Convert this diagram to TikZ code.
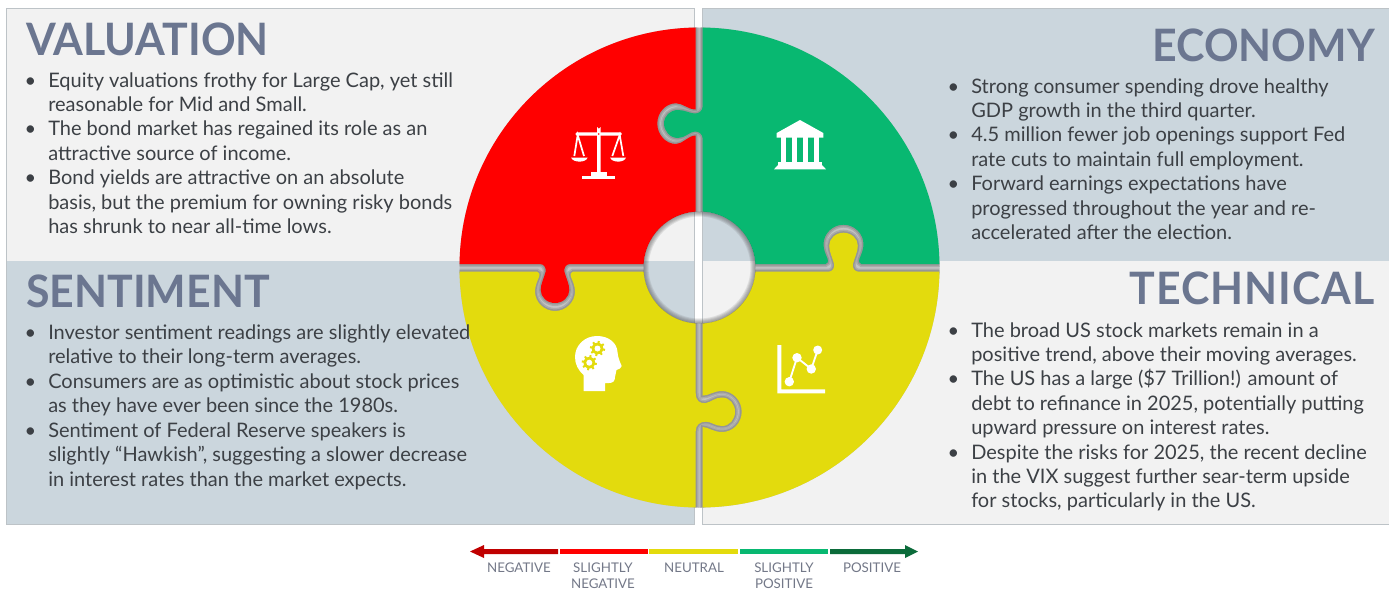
\documentclass[tikz,border=0pt]{standalone}
\usepackage{fontspec}
\setmainfont{Lato}
\newfontfamily\headf[FakeStretch=0.96]{Lato}
\definecolor{panlight}{HTML}{F2F2F2}
\definecolor{panblue}{HTML}{CBD6DD}
\definecolor{panedge}{HTML}{BDC3C7}
\definecolor{pred}{HTML}{FF0000}
\definecolor{pgreen}{HTML}{08B871}
\definecolor{pyellow}{HTML}{E3DB0D}
\definecolor{headc}{HTML}{6B7690}
\definecolor{bodyc}{HTML}{3C4045}
\definecolor{legc}{HTML}{737888}
\definecolor{dred}{HTML}{C00000}
\definecolor{dgreen}{HTML}{0B6B3A}
\newcommand{\bl}{\llap{•\hspace{9pt}}}
\newcommand{\redp}{(440,10) -- (695.7,10) -- (695.7,109.5)
 .. controls (688,109.5) and (683,103.3) .. (676,103.3)
 .. controls (665.5,103.3) and (657.3,112.5) .. (657.3,123.5)
 .. controls (657.3,134.5) and (665.5,144) .. (676,144)
 .. controls (683,144) and (688,135.5) .. (695.7,135.5)
 -- (695.7,264) -- (570,264)
 .. controls (566,264) and (563.5,268) .. (564.5,272)
 .. controls (566,278) and (569.3,284) .. (569.3,290)
 .. controls (569.3,297) and (563,303) .. (555,303)
 .. controls (547,303) and (540.7,297) .. (540.7,290)
 .. controls (540.7,284) and (544,278) .. (545.5,272)
 .. controls (546.5,268) and (544,264) .. (540,264)
 -- (440,264) -- cycle}
\newcommand{\greenp}{(702.7,10) -- (702.7,106)
 .. controls (702.7,111) and (699,113.5) .. (695,113.5)
 .. controls (690,113.5) and (685,110) .. (678,110)
 .. controls (670,110) and (664,116) .. (664,123.5)
 .. controls (664,131) and (670,138) .. (678,138)
 .. controls (685,138) and (690,131.5) .. (695,131.5)
 .. controls (699,131.5) and (702.7,134) .. (702.7,139)
 -- (702.7,264) -- (825.5,264)
 .. controls (827.5,264) and (828.5,261.7) .. (827.5,258.7)
 .. controls (825.5,253.7) and (823.5,249.7) .. (823.5,244.2)
 .. controls (823.5,233.7) and (832.5,224.7) .. (843.5,224.7)
 .. controls (854.5,224.7) and (863.5,233.7) .. (863.5,244.2)
 .. controls (863.5,249.7) and (861.5,253.7) .. (859.5,258.7)
 .. controls (858.5,261.7) and (859.5,264) .. (861.5,264)
 -- (950,264) -- (950,10) -- cycle}
\newcommand{\yleftp}{(440,271.7) -- (537,271.7)
 .. controls (539,271.7) and (540,274) .. (539,277)
 .. controls (537,282) and (535,286) .. (535,291.5)
 .. controls (535,302) and (544,311) .. (555,311)
 .. controls (566,311) and (575,302) .. (575,291.5)
 .. controls (575,286) and (573,282) .. (571,277)
 .. controls (570,274) and (571,271.7) .. (573,271.7)
 -- (695.7,271.7) -- (695.7,393)
 .. controls (695.7,401) and (700,404) .. (706,403)
 .. controls (711,402) and (715,397.5) .. (722,397.5)
 .. controls (729.5,397.5) and (735,404) .. (735,411.7)
 .. controls (735,419.5) and (729.5,426) .. (722,426)
 .. controls (715,426) and (711,421.5) .. (706,421.7)
 .. controls (700,421.5) and (695.7,425) .. (695.7,431)
 -- (695.7,520) -- (440,520) -- cycle}
\newcommand{\yrightp}{(702.7,271.7) -- (828.5,271.7)
 .. controls (832.5,271.7) and (835,267.7) .. (834,263.7)
 .. controls (832.5,257.7) and (829.2,251.7) .. (829.2,245.7)
 .. controls (829.2,238.7) and (835.5,232.7) .. (843.5,232.7)
 .. controls (851.5,232.7) and (857.8,238.7) .. (857.8,245.7)
 .. controls (857.8,251.7) and (854.5,257.7) .. (853,263.7)
 .. controls (852,267.7) and (854.5,271.7) .. (858.5,271.7)
 -- (950,271.7) -- (950,520) -- (702.7,520) -- (702.7,427)
 .. controls (708,427) and (713,432) .. (722,432)
 .. controls (733,432) and (741.7,423) .. (741.7,411.7)
 .. controls (741.7,400.5) and (733,391) .. (722,391)
 .. controls (713,391) and (708,396) .. (702.7,395.5) -- cycle}
\tikzset{
 x=0.75pt,y=-0.75pt,
 panel/.style={draw=panedge,line width=0.4pt},
 headtext/.style={text=headc,inner sep=0pt,font=\headf\bfseries\fontsize{33.5}{36}\selectfont},
 bodytext/.style={text=bodyc,inner sep=0pt,align=left,anchor=north west,font=\fontsize{15}{18.32}\selectfont},
 legtext/.style={text=legc,inner sep=0pt,align=center,font=\fontsize{10}{12.2}\selectfont},
 icon/.style={fill=white,draw=none},
}
\begin{document}
\begin{tikzpicture}
\useasboundingbox (0,0) rectangle (1389,590);
\fill[white] (0,0) rectangle (1389,590);
\coordinate (c) at (699.5,267.5);
% panels
\fill[panlight] (6,8) rectangle (694,261);
\fill[panblue] (6,261) rectangle (694,524);
\fill[panblue] (702,8) rectangle (1389,261);
\fill[panlight] (702,261) rectangle (1389,524);
\draw[panel] (6,8) rectangle (694,524);
\draw[panel] (702,8) rectangle (1389,524);
% puzzle
\begin{scope}[even odd rule]
\clip (c) circle (240) (c) circle (56);
\fill[color={rgb,255:red,196;green,196;blue,196}] (440,10) rectangle (950,520);
\foreach \lw/\cc in {6/171,3/150}{
 \definecolor{tmpc}{RGB}{\cc,\cc,\cc}
 \draw[tmpc,line width=\lw*0.75pt] \redp;
 \draw[tmpc,line width=\lw*0.75pt] \greenp;
 \draw[tmpc,line width=\lw*0.75pt] \yleftp;
 \draw[tmpc,line width=\lw*0.75pt] \yrightp;
}
\fill[pred] \redp;
\fill[pgreen] \greenp;
\fill[pyellow] \yleftp;
\fill[pyellow] \yrightp;
\end{scope}
% hole shadow
\begin{scope}
\clip (c) circle (56);
\foreach \lw in {10,8,6,4,2}{
 \draw[color={rgb,255:red,80;green,80;blue,80},opacity=0.13,line width=\lw*0.75pt] (c) circle (56);
}
\end{scope}
% scales icon
\fill[icon] (597,127) arc[start angle=180,end angle=0,radius=1.8] -- (600.6,176) -- (597,176) -- cycle;
\fill[icon,rounded corners=0.8pt] (575.7,132.3) rectangle (621.7,135.6);
\fill[pred] (598.7,134) circle (0.9);
\foreach \ax/\la/\lb in {577.7/574.3/584,619.7/612.3/623.3}{
 \draw[white,line width=1.3pt] (\la,156) -- (\ax,135) -- (\lb,156);
}
\fill[icon] (571,157.5) .. controls (573,163) and (586,163) .. (587.7,157.5) -- cycle;
\fill[icon] (610,157.5) .. controls (612,163) and (624.5,163) .. (626,157.5) -- cycle;
\fill[icon] (590.7,172.3) rectangle (606.7,176);
\fill[icon] (582.3,175.7) rectangle (615,179);
% bank icon
\fill[icon] (800,120) -- (823.3,133) -- (823.3,137.7) -- (776.7,137.7) -- (776.7,133) -- cycle;
\foreach \xa in {780.7,791.6,802.6,813.8}{
 \fill[icon] (\xa,137) rectangle ++(5.2,25);
}
\fill[icon] (778,161.7) rectangle (822,165.2);
\fill[icon] (778,165) -- (822,165) -- (826,169.3) -- (774,169.3) -- cycle;
% head icon
\fill[icon] (583.5,391) -- (583.5,375) .. controls (578,370) and (575,364) .. (575,357)
 .. controls (575,345) and (585,336) .. (597,336)
 .. controls (609,336) and (617,343) .. (617.5,352)
 .. controls (618,358) and (620,362) .. (621.7,366)
 .. controls (622,368) and (619,369) .. (616.5,370) -- (615,377)
 .. controls (615,381) and (613,383) .. (609,383) -- (605,383) -- (605,391) -- cycle;
\coordinate (g1) at (597.5,348.5);
\coordinate (g2) at (589.3,362.7);
\foreach \g in {g1,g2}{
 \foreach \a in {0,45,...,315}{
  \draw[pyellow,line width=1.5pt] (\g) -- ++(\a+10:7.6);
 }
 \fill[pyellow] (\g) circle (5.8);
 \fill[white] (\g) circle (3);
}
% chart icon
\fill[icon] (777.3,345) -- (781.3,345) -- (781.3,389.3) -- (825,389.3) -- (825,393.3) -- (777.3,393.3) -- cycle;
\coordinate (p1) at (789.3,381.7);
\coordinate (p2) at (797,357.7);
\coordinate (p3) at (811.3,369);
\coordinate (p4) at (817.7,350);
\draw[white,line width=1.4pt] (p1) -- (p2) -- (p3) -- (p4);
\foreach \p in {p1,p2,p3}{\fill[white] (\p) circle (4.7);}
\fill[white] (p4) circle (4.5);
% headings
\node[headtext,anchor=base west] (hval) at (26,55) {VALUATION};
\node[headtext,anchor=base east] (heco) at (1375,61) {ECONOMY};
\node[headtext,anchor=base west] (hsen) at (26,307) {SENTIMENT};
\node[headtext,anchor=base east] (htec) at (1375,304) {\addfontfeature{LetterSpace=2.2}TECHNICAL};
% body text
\node[bodytext] (tval) at (48,72) {\bl Equity valuations frothy for Large Cap, yet still\\reasonable for Mid and Small.\\\bl The bond market has regained its role as an\\attractive source of income.\\\bl Bond yields are attractive on an absolute\\basis, but the premium for owning risky bonds\\has shrunk to near all-time lows.};
\node[bodytext] (teco) at (971,78) {\bl Strong consumer spending drove healthy\\GDP growth in the third quarter.\\\bl 4.5 million fewer job openings support Fed\\rate cuts to maintain full employment.\\\bl Forward earnings expectations have\\progressed throughout the year and re-\\accelerated after the election.};
\node[bodytext] (tsen) at (48,324.5) {\bl Investor sentiment readings are slightly elevated\\relative to their long-term averages.\\\bl Consumers are as optimistic about stock prices\\as they have ever been since the 1980s.\\\bl Sentiment of Federal Reserve speakers is\\slightly “Hawkish”, suggesting a slower decrease\\in interest rates than the market expects.};
\node[bodytext] (ttec) at (971,322) {\bl The broad US stock markets remain in a\\positive trend, above their moving averages.\\\bl The US has a large (\$7 Trillion!) amount of\\debt to refinance in 2025, potentially putting\\upward pressure on interest rates.\\\bl Despite the risks for 2025, the recent decline\\in the VIX suggest further sear-term upside\\for stocks, particularly in the US.};
% legend
\fill[dred] (470,551.5) -- (484,545) -- (484,549) -- (558,549) -- (558,554) -- (484,554) -- (484,558) -- cycle;
\fill[pred] (560,549) rectangle (648,554);
\fill[pyellow] (649,549) rectangle (738,554);
\fill[pgreen] (740,549) rectangle (828,554);
\fill[dgreen] (918,551.5) -- (905,545) -- (905,549) -- (830,549) -- (830,554) -- (905,554) -- (905,558) -- cycle;
\node[legtext,anchor=north] (l1) at (519,562.5) {NEGATIVE};
\node[legtext,anchor=north] (l2) at (603,562.5) {SLIGHTLY\\NEGATIVE};
\node[legtext,anchor=north] (l3) at (694,562.5) {NEUTRAL};
\node[legtext,anchor=north] (l4) at (784,562.5) {SLIGHTLY\\POSITIVE};
\node[legtext,anchor=north] (l5) at (872,562.5) {POSITIVE};
\end{tikzpicture}
\end{document}
